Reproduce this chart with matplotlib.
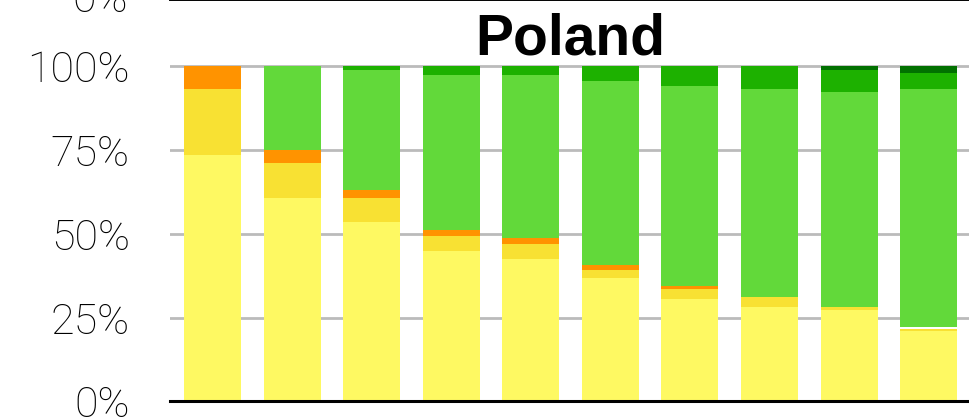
# -*- coding: utf-8 -*-
"""
Poland: 100% stacked bars, 10 columns, six colour bands from yellow to dark green.
"""

import matplotlib
import matplotlib.pyplot as plt
import numpy as np

#================== data (percent of each column) ==================#
bar_labels = ["1", "2", "3", "4", "5", "6", "7", "8", "9", "10"]

light_yellow = [73.5, 60.7, 53.6, 44.9, 42.5, 36.8, 30.6, 28.2, 27.3, 21.0]
yellow       = [19.6, 10.5,  7.1,  4.4,  4.4,  2.4,  2.9,  2.9,  0.9,  0.6]
orange       = [ 6.9,  3.9,  2.4,  1.8,  1.8,  1.5,  0.9,  0.0,  0.0,  0.0]
gap          = [ 0.0,  0.0,  0.0,  0.0,  0.0,  0.0,  0.0,  0.0,  0.0,  0.6]
lime         = [ 0.0, 24.9, 35.8, 46.2, 48.6, 54.8, 59.6, 62.0, 64.0, 70.9]
green        = [ 0.0,  0.0,  1.1,  2.7,  2.7,  4.5,  6.0,  6.9,  6.6,  4.8]
dark_green   = [ 0.0,  0.0,  0.0,  0.0,  0.0,  0.0,  0.0,  0.0,  1.2,  2.1]

series = [light_yellow, yellow, orange, gap, lime, green, dark_green]
colors = ["#FEF962", "#F8E133", "#FF9300", "#FFFFFF", "#62D93A", "#1DB100", "#017100"]

title = "Poland"
y_ticks = [0, 25, 50, 75, 100]
#===================================================================#

plt.rcParams['font.family'] = ['Roboto', 'DejaVu Sans']

fig = plt.figure(figsize=(9.7, 4.17), dpi=100)
ax = fig.add_axes([0.1753, 0.0372, 0.8247, 0.9628])

x = np.arange(len(bar_labels))
bottom = np.zeros(len(bar_labels))
for vals, col in zip(series, colors):
    vals = np.array(vals)
    ax.bar(x, vals, 0.716, bottom=bottom, color=col, linewidth=0, zorder=2)
    bottom += vals

ax.set_xlim(-0.534, 9.52)
ax.set_ylim(0, 119.7)

# 网格线 (灰色, 在柱子后面)
ax.set_yticks(y_ticks)
ax.set_yticklabels([f"{t}%" for t in y_ticks], fontsize=31, fontweight='light',
                   color="black")
ax.yaxis.grid(True, color="#BBBBBB", linewidth=2, zorder=0)
ax.set_axisbelow(True)
ax.tick_params(axis='y', length=0, pad=29)
ax.set_xticks([])

for side in ['left', 'right']:
    ax.spines[side].set_visible(False)
ax.spines['bottom'].set_linewidth(2.2)
ax.spines['top'].set_linewidth(1.4)
ax.spines['bottom'].set_zorder(5)

ax.text(0.5, 0.864, title, transform=ax.transAxes, ha='center', va='baseline',
        fontsize=41, fontweight='bold', family='Liberation Sans')

# 上一个图的 "0%" 只露出下半部分
fig.text(128 / 970, 1 - 1 / 417, "0%", ha='right', va='center',
         fontsize=31, fontweight='light', color="black")

fig.savefig("out.png", dpi=100)
